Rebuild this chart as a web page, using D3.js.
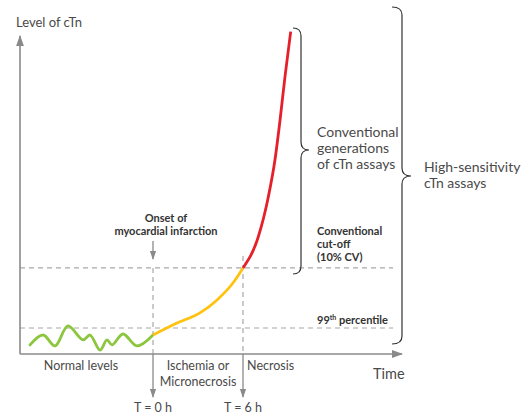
<!DOCTYPE html>
<html><head><meta charset="utf-8">
<script src="https://cdn.jsdelivr.net/npm/d3@7"></script>
<style>
body{margin:0;background:#fff}
svg{display:block}
text{font-family:Lato,"Open Sans",sans-serif;fill:#4a4a4a}
.b{font-weight:700;fill:#333}
</style></head><body>
<svg id="c" width="522" height="414"></svg>
<script>
// ---- data (time in hours relative to onset, level in arbitrary units) ----
const normalTime  = [-8.2,-7.33,-6.53,-5.67,-4.67,-4.2,-3.53,-3.07,-2.73,-2.0,-1.07,0];
const normalLevel = [3.5, 7.3, 3.1, 10.8, 5.4, 7.3, 1.5, 5.4, 3.5, 7.7, 3.1, 7.3];
const ischemiaTime  = [0, 1.6, 3.13, 4.27, 5.33, 6];
const ischemiaLevel = [7.3, 11.9, 15.8, 20.8, 27.3, 33.1];
const necrosisTime  = [6, 7.02, 7.69, 8.13, 8.47, 8.8, 9.18];
const necrosisLevel = [33.1, 45.1, 60.5, 74.6, 90, 106.7, 124];
const thresholdValues = [10, 33.1];          // 99th percentile, conventional cut-off
const markerTimes  = [0, 6];
const markerLabels = ["T = 0 h", "T = 6 h"];
const phaseLabels = [["Normal levels"], ["Ischemia or","Micronecrosis"], ["Necrosis"]];
const phaseTimes  = [-4.8, 3, 6.27];

const svg = d3.select("#c");
const x = d3.scaleLinear().domain([-8.867, 16.6]).range([20, 402]);
const y = d3.scaleLinear().domain([0, 125]).range([354, 29]);
const grey = "#8a8a8a";

const defs = svg.append("defs");
defs.append("marker").attr("id","ar").attr("viewBox","0 0 10 10").attr("refX",9).attr("refY",5)
  .attr("markerWidth",7).attr("markerHeight",7).attr("orient","auto-start-reverse")
  .append("path").attr("d","M0,1.5 L10,5 L0,8.5 Z").attr("fill",grey);

// threshold dashed lines
svg.selectAll(".th").data(thresholdValues).join("line")
  .attr("x1", x.range()[0]).attr("x2", 393)
  .attr("y1", d=>y(d)).attr("y2", d=>y(d))
  .attr("stroke","#a8a8a8").attr("stroke-width",1.2).attr("stroke-dasharray","5,4");

// time markers: dashed above axis, solid arrow below
svg.selectAll(".vd").data(markerTimes).join("line")
  .attr("x1", d=>x(d)).attr("x2", d=>x(d))
  .attr("y1", (d,i)=> i===0 ? y(thresholdValues[1]) : y(thresholdValues[1]) - 12)
  .attr("y2", y(0))
  .attr("stroke","#a8a8a8").attr("stroke-width",1.2).attr("stroke-dasharray","5,4");
svg.selectAll(".va").data(markerTimes).join("line")
  .attr("x1", d=>x(d)).attr("x2", d=>x(d))
  .attr("y1", y(0)).attr("y2", 397)
  .attr("stroke",grey).attr("stroke-width",1.3).attr("marker-end","url(#ar)");
svg.selectAll(".vl").data(markerLabels).join("text")
  .attr("x",(d,i)=>x(markerTimes[i])).attr("y",412).attr("text-anchor","middle")
  .attr("font-size",12.5).text(d=>d);

// onset arrow
svg.append("line").attr("x1",x(0)).attr("x2",x(0)).attr("y1",241).attr("y2",259)
  .attr("stroke",grey).attr("stroke-width",1.3).attr("marker-end","url(#ar)");
svg.append("text").attr("class","b").attr("x",x(0)+13).attr("y",222).attr("text-anchor","middle")
  .attr("font-size",11).text("Onset of");
svg.append("text").attr("class","b").attr("x",x(0)+13).attr("y",235).attr("text-anchor","middle")
  .attr("font-size",11).text("myocardial infarction");

// axes
svg.append("line").attr("x1",x.range()[0]).attr("x2",x.range()[0]).attr("y1",y(0)).attr("y2",36)
  .attr("stroke",grey).attr("stroke-width",1.6).attr("marker-end","url(#ar)");
svg.append("line").attr("x1",x.range()[0]).attr("x2",x.range()[1]).attr("y1",y(0)).attr("y2",y(0))
  .attr("stroke",grey).attr("stroke-width",1.6).attr("marker-end","url(#ar)");
svg.append("text").attr("x",16).attr("y",27).attr("font-size",13).text("Level of cTn");
svg.append("text").attr("x",373).attr("y",379).attr("font-size",14.5).text("Time");

// curves
const line = d3.line().x(d=>x(d[0])).y(d=>y(d[1]));
const zip = (a,b)=>a.map((v,i)=>[v,b[i]]);
svg.append("path").attr("d", line.curve(d3.curveCatmullRom)(zip(normalTime,normalLevel)))
  .attr("fill","none").attr("stroke","#8cc63e").attr("stroke-width",2.8).attr("stroke-linecap","round");
svg.append("path").attr("d", line.curve(d3.curveMonotoneX)(zip(ischemiaTime,ischemiaLevel)))
  .attr("fill","none").attr("stroke","#fec20f").attr("stroke-width",2.8);
svg.append("path").attr("d", line.curve(d3.curveMonotoneX)(zip(necrosisTime,necrosisLevel)))
  .attr("fill","none").attr("stroke","#e5202a").attr("stroke-width",2.8);

// phase labels
phaseLabels.forEach((lines,i)=>{
  lines.forEach((t,j)=>{
    svg.append("text").attr("x",x(phaseTimes[i])).attr("y",370+j*16)
      .attr("text-anchor", i===2 ? "start":"middle").attr("font-size",12.5).text(t);
  });
});

// threshold labels
svg.append("text").attr("class","b").attr("x",317).attr("y",y(thresholdValues[0])-4).attr("font-size",11)
  .html('99<tspan dy="-4" font-size="7">th</tspan><tspan dy="4"> percentile</tspan>');
["Conventional","cut-off","(10% CV)"].forEach((t,j)=>
  svg.append("text").attr("class","b").attr("x",317).attr("y",235+j*13).attr("font-size",11).text(t));

// braces
function brace(x0,x1,x2,y1,y2,ym,r){
  return `M${x0},${y1} Q${x1},${y1} ${x1},${y1+r} L${x1},${ym-r} Q${x1},${ym} ${x2},${ym}`+
         ` Q${x1},${ym} ${x1},${ym+r} L${x1},${y2-r} Q${x1},${y2} ${x0},${y2}`;
}
svg.append("path").attr("d",brace(293,301,309,28,274,150,8)).attr("fill","none")
  .attr("stroke","#333").attr("stroke-width",1.2);
svg.append("path").attr("d",brace(392,402,411,7,344,176,8)).attr("fill","none")
  .attr("stroke","#333").attr("stroke-width",1.2);
["Conventional","generations","of cTn assays"].forEach((t,j)=>
  svg.append("text").attr("x",317).attr("y",137+j*16).attr("font-size",14).text(t));
["High-sensitivity","cTn assays"].forEach((t,j)=>
  svg.append("text").attr("x",424).attr("y",172+j*16).attr("font-size",14).text(t));
</script></body></html>
